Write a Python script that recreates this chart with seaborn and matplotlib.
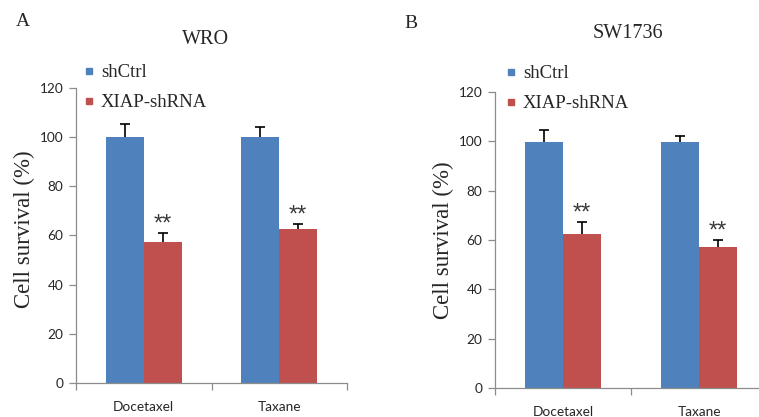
import pandas as pd
import numpy as np
import matplotlib
matplotlib.use('Agg')
import matplotlib.pyplot as plt
import seaborn as sns
from matplotlib.lines import Line2D

drugs = ['Docetaxel', 'Taxane']
groups = ['shCtrl', 'XIAP-shRNA']

wro_ctrl = [100, 100]
wro_ctrl_err = [5.3, 4.0]
wro_xiap = [57.5, 62.7]
wro_xiap_err = [3.4, 2.0]

sw_ctrl = [99.8, 99.8]
sw_ctrl_err = [4.6, 2.5]
sw_xiap = [62.4, 57.2]
sw_xiap_err = [5.0, 3.0]

colors = ['#4F81BD', '#C0504D']

serif = 'Liberation Serif'
sans = 'Lato'

sns.set_style('white')
plt.rcParams['font.family'] = ['Liberation Serif', 'DejaVu Sans']

W, H = 759, 417
fig = plt.figure(figsize=(W / 100, H / 100), dpi=100)


def make_df(ctrl, ctrl_err, xiap, xiap_err):
    return pd.DataFrame({
        'drug': drugs * 2,
        'group': [groups[0]] * 2 + [groups[1]] * 2,
        'value': ctrl + xiap,
        'err': ctrl_err + xiap_err,
    })


def draw_panel(rect, df, title, title_xy, letter, letter_xy, leg_xy, ylab_xy):
    left, bottom, width, height = rect
    ax = fig.add_axes([left / W, 1 - bottom / H, width / W, height / H])
    sns.barplot(data=df, x='drug', y='value', hue='group', hue_order=groups,
                palette=colors, width=0.56, gap=0, errorbar=None, linewidth=0,
                saturation=1, legend=False, ax=ax)

    # upper error bars only + stars
    bar_conts = list(ax.containers)
    for i, cont in enumerate(bar_conts):
        sub = df[df['group'] == groups[i]]
        for bar, v, e in zip(cont, sub['value'], sub['err']):
            xc = bar.get_x() + bar.get_width() / 2
            eb = ax.errorbar(xc, v, yerr=[[0], [e]], fmt='none', ecolor='black',
                             elinewidth=1.2, capsize=3.5, capthick=1.2, zorder=5)
            eb[1][0].set_visible(False)
            if i == 1:
                ax.text(xc, v + e + 1, '**', ha='center', va='baseline',
                        fontsize=17, color='#3a3a3a', family='Liberation Sans')

    ax.set_ylim(0, 120)
    ax.set_xlim(-0.5, 1.5)
    ax.set_yticks([0, 20, 40, 60, 80, 100, 120])
    ax.set_xlabel('')
    ax.set_ylabel('Cell survival (%)', fontsize=16.5, family=serif)
    ax.yaxis.set_label_coords(ylab_xy[0], ylab_xy[1])

    for s in ['top', 'right']:
        ax.spines[s].set_visible(False)
    for s in ['left', 'bottom']:
        ax.spines[s].set_color('#8c8c8c')
        ax.spines[s].set_linewidth(0.9)

    ax.tick_params(axis='y', direction='out', length=5, width=0.9, color='#8c8c8c',
                   pad=4, labelsize=9.8, labelcolor='#262626', left=True)
    ax.tick_params(axis='x', which='major', length=0, pad=13, labelsize=9.8,
                   labelcolor='#262626')
    ax.set_xticks([-0.5, 0.5, 1.5], minor=True)
    ax.tick_params(axis='x', which='minor', direction='out', length=5, width=0.9,
                   color='#8c8c8c', bottom=True)
    for lab in ax.get_xticklabels() + ax.get_yticklabels():
        lab.set_family(sans)

    handles = [Line2D([], [], marker='s', color=c, linestyle='none', markersize=5)
               for c in colors]
    ax.legend(handles, groups, loc='upper left',
              bbox_to_anchor=(leg_xy[0] / W, 1 - leg_xy[1] / H),
              bbox_transform=fig.transFigure, frameon=False, borderpad=0,
              borderaxespad=0, handlelength=0.4, handletextpad=0.45,
              labelspacing=0.7, prop={'family': serif, 'size': 13.5})

    fig.text(title_xy[0] / W, 1 - title_xy[1] / H, title, ha='center', va='center',
             fontsize=14.5, family=serif)
    fig.text(letter_xy[0] / W, 1 - letter_xy[1] / H, letter, ha='left', va='center',
             fontsize=14, family=serif)
    return ax


df_wro = make_df(wro_ctrl, wro_ctrl_err, wro_xiap, wro_xiap_err)
df_sw = make_df(sw_ctrl, sw_ctrl_err, sw_xiap, sw_xiap_err)

draw_panel((76, 383, 271, 295), df_wro, 'WRO', (206, 40), 'A', (16, 22),
           (85, 64), (-0.15, 0.52))
draw_panel((495, 388, 272, 296), df_sw, 'SW1736', (628, 33), 'B', (404, 23),
           (507, 65), (-0.15, 0.5))

fig.savefig('out.png', dpi=100)
